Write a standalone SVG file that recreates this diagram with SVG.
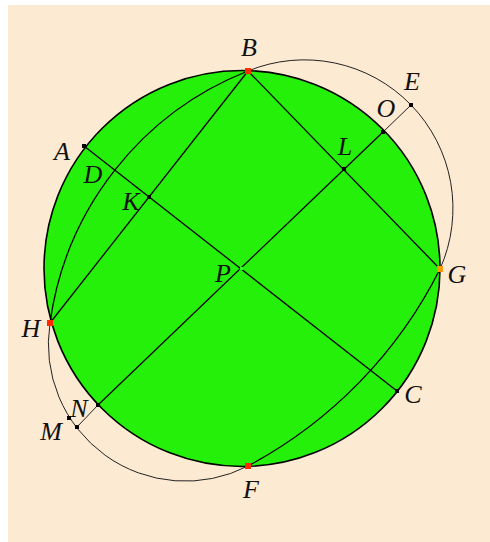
<svg xmlns="http://www.w3.org/2000/svg" width="490" height="542" viewBox="0 0 490 542">
<style>
.ln{stroke:#000;stroke-width:1.3;fill:none}
.thin{stroke:#222;stroke-width:1;fill:none}
.lbl{font-family:"Liberation Serif",serif;font-style:italic;font-size:26px;fill:#111;text-anchor:middle}
.pt{fill:#000}
</style>
<rect x="0" y="0" width="490" height="542" fill="#fff"/>
<rect x="8" y="5" width="482" height="537" fill="#FDEAD2"/>
<g id="circle">
<circle cx="242" cy="268.5" r="198" fill="#24F00A" stroke="#000" stroke-width="1.6"/>
</g>
<g id="connectors">
<path class="ln" d="M248,71 A317,317 0 0 0 50,323"/>
<path class="ln" d="M440,269 A454,454 0 0 1 248,466"/>
<path class="thin" d="M248,71 A148.5,148.5 0 0 1 440,269"/>
<path class="thin" d="M50,323 A137,137 0 0 0 248,466"/>
<line class="ln" x1="84" y1="146" x2="397" y2="391"/>
<line class="ln" x1="248" y1="71" x2="440" y2="269"/>
<line class="ln" x1="248" y1="71" x2="50" y2="323"/>
<line class="ln" x1="98" y1="405" x2="383" y2="132"/>
<line class="thin" x1="383" y1="132" x2="411" y2="105"/>
<line class="thin" x1="98" y1="405" x2="77" y2="427"/>
</g>
<g id="A"><rect class="pt" x="82" y="144" width="4" height="4"/><text class="lbl" x="62" y="160">A</text></g>
<g id="B"><rect x="245" y="68" width="6" height="6" fill="#FF2A00"/><text class="lbl" x="249" y="56">B</text></g>
<g id="C"><rect class="pt" x="395" y="389" width="4" height="4"/><text class="lbl" x="413" y="403">C</text></g>
<g id="D"><text class="lbl" x="93" y="183">D</text></g>
<g id="E"><rect class="pt" x="409" y="103" width="4" height="4"/><text class="lbl" x="412" y="90">E</text></g>
<g id="F"><rect x="245" y="463" width="6" height="6" fill="#FF2A00"/><text class="lbl" x="251" y="498">F</text></g>
<g id="G"><rect x="437" y="266" width="6" height="6" fill="#FF9A00"/><text class="lbl" x="457" y="283">G</text></g>
<g id="H"><rect x="47" y="320" width="6" height="6" fill="#FF2A00"/><text class="lbl" x="31" y="337">H</text></g>
<g id="K"><rect class="pt" x="147" y="195" width="4" height="4"/><text class="lbl" x="131" y="210">K</text></g>
<g id="L"><rect class="pt" x="342" y="167" width="4" height="4"/><text class="lbl" x="345" y="155">L</text></g>
<g id="M"><rect class="pt" x="67" y="416" width="4" height="4"/><rect class="pt" x="75" y="425" width="4" height="4"/><text class="lbl" x="51" y="440">M</text></g>
<g id="N"><rect class="pt" x="96" y="403" width="4" height="4"/><text class="lbl" x="79" y="417">N</text></g>
<g id="O"><rect class="pt" x="381" y="130" width="4" height="4"/><text class="lbl" x="386" y="117">O</text></g>
<g id="P"><rect x="240" y="267" width="3" height="3" fill="#2CFF20"/><text class="lbl" x="223" y="282">P</text></g>
</svg>
